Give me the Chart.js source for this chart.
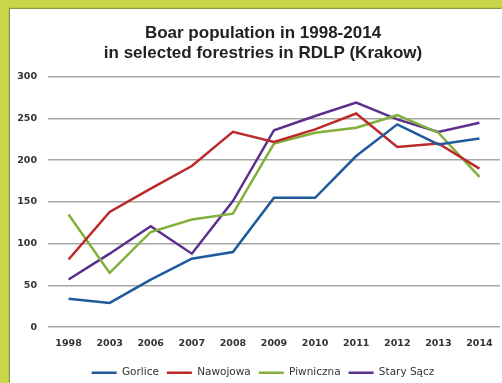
<!DOCTYPE html>
<html>
<head>
<meta charset="utf-8">
<script src="https://cdn.jsdelivr.net/npm/chart.js@4/dist/chart.umd.min.js"></script>
<style>
  html, body { margin: 0; padding: 0; width: 502px; height: 383px; overflow: hidden; background: #c8d64a; }
  #panel {
    position: absolute; left: 10px; top: 9px; width: 492px; height: 374px;
    background: #ffffff; box-shadow: -1px -1px 1px rgba(80, 80, 60, 0.5);
  }
  #chart { position: absolute; left: 0; top: 9px; }
</style>
</head>
<body>
<div id="panel"></div>
<canvas id="chart" width="509" height="374"></canvas>
<script>
// Boar counts per forestry, RDLP Kraków
const years = ['1998', '2003', '2006', '2007', '2008', '2009', '2010', '2011', '2012', '2013', '2014'];
const gorlice    = [34, 29, 57, 82, 90, 155, 155, 205, 243, 219, 226];
const nawojowa   = [81, 138, 166, 193, 234, 222, 237, 256, 216, 220, 190];
const piwniczna  = [135, 65, 114, 129, 136, 220, 233, 239, 254, 233, 180];
const starySacz  = [57, 88, 121, 88, 151, 236, 253, 269, 249, 234, 245];
const yTicks     = [0, 50, 100, 150, 200, 250, 300];

const axisFont = { family: 'DejaVu Sans', size: 9.5, weight: 'bold' };

const series = [
    { label: 'Gorlice',    data: gorlice,   color: '#1f5a9c' },
    { label: 'Nawojowa',   data: nawojowa,  color: '#bb2a2a' },
    { label: 'Piwniczna',  data: piwniczna, color: '#82b03a' },
    { label: 'Stary Sącz', data: starySacz, color: '#5b2f8c' }
];

new Chart(document.getElementById('chart'), {
    type: 'line',
    data: {
        labels: years,
        datasets: series.map(s => ({
            label: s.label,
            data: s.data,
            borderColor: s.color,
            backgroundColor: s.color,
            borderWidth: 2.5,
            pointRadius: 0,
            tension: 0,
            fill: false
        }))
    },
    options: {
        responsive: false,
        animation: false,
        layout: { padding: { left: 17, right: 0, top: 0, bottom: -5 } },
        plugins: {
            title: {
                display: true,
                text: ['Boar population in 1998-2014', 'in selected forestries in RDLP (Krakow)'],
                color: '#222',
                font: { family: 'Liberation Sans', size: 17, weight: 'bold', lineHeight: 1.2 },
                padding: { top: 14, bottom: 13 }
            },
            legend: {
                position: 'bottom',
                labels: {
                    usePointStyle: true,
                    pointStyle: 'line',
                    pointStyleWidth: 25,
                    boxHeight: 3,
                    color: '#333',
                    font: { family: 'DejaVu Sans', size: 10.5 },
                    padding: 8
                }
            },
            tooltip: { enabled: false }
        },
        scales: {
            x: {
                offset: true,
                // extra room between year labels and legend
                afterFit: axis => { axis.height += 7; },
                grid: { display: false },
                border: { display: false },
                ticks: { color: '#333', font: axisFont, padding: 3, maxRotation: 0, autoSkip: false }
            },
            y: {
                min: 0,
                max: 300,
                afterBuildTicks: axis => { axis.ticks = yTicks.map(v => ({ value: v })); },
                afterFit: axis => { axis.width = 31; },
                grid: { color: '#a6a6a6', lineWidth: 1.6, drawTicks: false },
                border: { display: false },
                ticks: { color: '#333', font: axisFont, padding: 11 }
            },
            // empty right-hand strip so the plot stops short of the panel edge
            yRight: {
                position: 'right',
                min: 0,
                max: 300,
                afterFit: axis => { axis.width = 9; },
                grid: { display: false },
                border: { display: false },
                ticks: { display: false }
            }
        }
    }
});
</script>
</body>
</html>
